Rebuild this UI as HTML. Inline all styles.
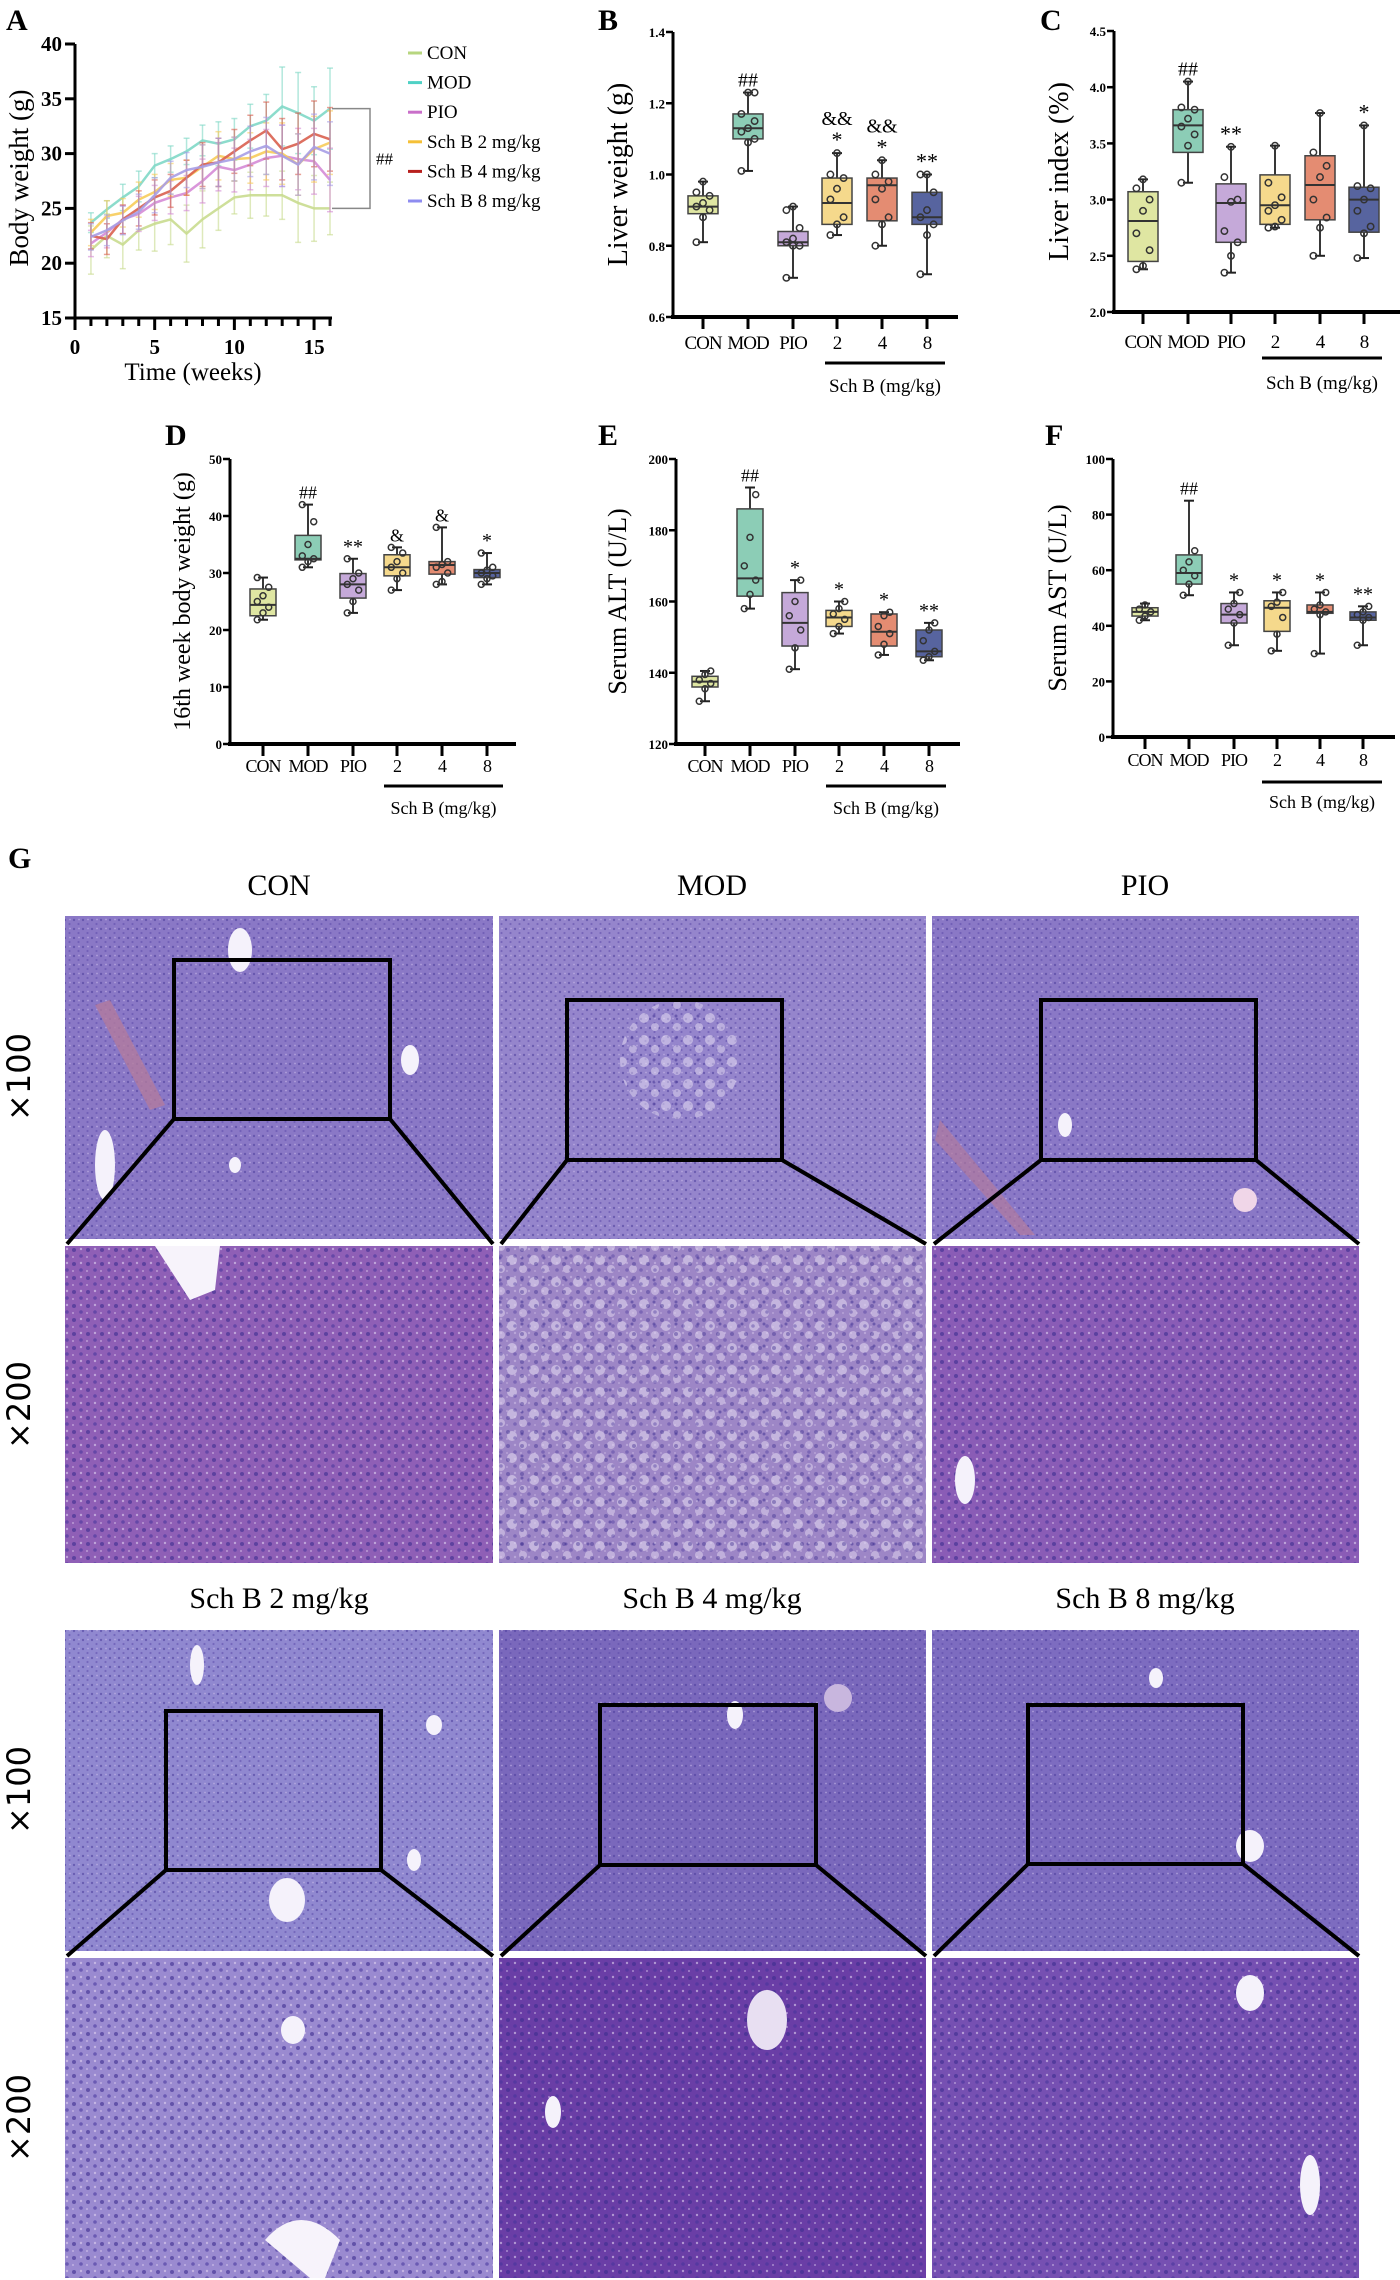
<!DOCTYPE html>
<html><head><meta charset="utf-8">
<style>
html,body{margin:0;padding:0;background:#fff;}
svg{display:block;font-family:"Liberation Serif",serif;}
</style></head>
<body>
<svg id="fig" width="1400" height="2280" viewBox="0 0 1400 2280" xmlns="http://www.w3.org/2000/svg">
<defs>
  <pattern id="cells100" width="9" height="9" patternUnits="userSpaceOnUse">
    <circle cx="2" cy="2" r="1.2" fill="#4b3c9a" opacity="0.55"/>
    <circle cx="6.5" cy="6" r="1.1" fill="#5a48a8" opacity="0.5"/>
    <circle cx="7" cy="1.5" r="0.9" fill="#c9b9ea" opacity="0.6"/>
  </pattern>
  <pattern id="cells200" width="14" height="14" patternUnits="userSpaceOnUse">
    <circle cx="4" cy="4" r="2" fill="#3c2d8f" opacity="0.6"/>
    <circle cx="11" cy="10" r="1.8" fill="#43339a" opacity="0.55"/>
    <circle cx="11" cy="3" r="1.2" fill="#e0d0f0" opacity="0.6"/>
    <circle cx="3" cy="11" r="1" fill="#e6d6f4" opacity="0.5"/>
  </pattern>
  <pattern id="fat" width="22" height="22" patternUnits="userSpaceOnUse">
    <circle cx="6" cy="6" r="5" fill="#f4eefb" opacity="0.45"/>
    <circle cx="17" cy="15" r="4" fill="#f4eefb" opacity="0.4"/>
    <circle cx="16" cy="4" r="1.5" fill="#4b3c9a" opacity="0.6"/>
  </pattern>
</defs>

<text x="6" y="30" font-size="30" font-weight="bold">A</text>
<text x="598" y="30" font-size="30" font-weight="bold">B</text>
<text x="1040" y="30" font-size="30" font-weight="bold">C</text>
<text x="165" y="445" font-size="30" font-weight="bold">D</text>
<text x="598" y="445" font-size="30" font-weight="bold">E</text>
<text x="1045" y="445" font-size="30" font-weight="bold">F</text>
<text x="8" y="868" font-size="30" font-weight="bold">G</text>

<g id="chartA"></g>
<g id="chartB"></g>
<g id="chartC"></g>
<g id="chartD"></g>
<g id="chartE"></g>
<g id="chartF"></g>

<g>
  <text x="279" y="895" font-size="30" text-anchor="middle">CON</text>
  <text x="712" y="895" font-size="30" text-anchor="middle">MOD</text>
  <text x="1145" y="895" font-size="30" text-anchor="middle">PIO</text>
  <text x="279" y="1608" font-size="30" text-anchor="middle">Sch B 2 mg/kg</text>
  <text x="712" y="1608" font-size="30" text-anchor="middle">Sch B 4 mg/kg</text>
  <text x="1145" y="1608" font-size="30" text-anchor="middle">Sch B 8 mg/kg</text>

  <text transform="translate(30,1077) rotate(-90)" font-size="32" text-anchor="middle" font-family="DejaVu Sans, sans-serif">×100</text>
  <text transform="translate(30,1405) rotate(-90)" font-size="32" text-anchor="middle" font-family="DejaVu Sans, sans-serif">×200</text>
  <text transform="translate(30,1790) rotate(-90)" font-size="32" text-anchor="middle" font-family="DejaVu Sans, sans-serif">×100</text>
  <text transform="translate(30,2118) rotate(-90)" font-size="32" text-anchor="middle" font-family="DejaVu Sans, sans-serif">×200</text>

  <g>
    <rect x="65" y="916" width="428" height="323" fill="#8a78c6"/><rect x="65" y="916" width="428" height="323" fill="url(#cells100)"/>
    <path d="M95 1005 L150 1110 L165 1105 L110 1000 Z" fill="#b27a9e" opacity="0.8"/>
    <ellipse cx="240" cy="950" rx="12" ry="22" fill="#f5f2fb"/><ellipse cx="410" cy="1060" rx="9" ry="15" fill="#f5f2fb"/>
    <ellipse cx="105" cy="1165" rx="10" ry="35" fill="#f5f2fb"/><ellipse cx="235" cy="1165" rx="6" ry="8" fill="#f5f2fb"/>
  </g>
  <g>
    <rect x="499" y="916" width="427" height="323" fill="#9585cc"/><rect x="499" y="916" width="427" height="323" fill="url(#cells100)"/>
    <ellipse cx="680" cy="1060" rx="60" ry="60" fill="url(#fat)"/>
  </g>
  <g>
    <rect x="932" y="916" width="427" height="323" fill="#8a78c6"/><rect x="932" y="916" width="427" height="323" fill="url(#cells100)"/>
    <path d="M935 1140 L1020 1235 L1035 1235 L940 1120 Z" fill="#b27a9e" opacity="0.7"/>
    <circle cx="1245" cy="1200" r="12" fill="#f0d6e8"/><ellipse cx="1065" cy="1125" rx="7" ry="12" fill="#f5f2fb"/>
  </g>
  <g>
    <rect x="65" y="1246" width="428" height="317" fill="#8f5fb6"/><rect x="65" y="1246" width="428" height="317" fill="url(#cells200)"/>
    <path d="M155 1246 L220 1246 L215 1290 L190 1300 Z" fill="#f7f3fb"/>
  </g>
  <g>
    <rect x="499" y="1246" width="427" height="317" fill="#9d86c6"/><rect x="499" y="1246" width="427" height="317" fill="url(#fat)"/><rect x="499" y="1246" width="427" height="317" fill="url(#cells200)" opacity="0.7"/>
  </g>
  <g>
    <rect x="932" y="1246" width="427" height="317" fill="#8a5cb6"/><rect x="932" y="1246" width="427" height="317" fill="url(#cells200)"/>
    <ellipse cx="965" cy="1480" rx="10" ry="24" fill="#f5f2fb"/>
  </g>
  <g>
    <rect x="65" y="1630" width="428" height="321" fill="#9088d0"/><rect x="65" y="1630" width="428" height="321" fill="url(#cells100)"/>
    <ellipse cx="287" cy="1900" rx="18" ry="22" fill="#f5f2fb"/><ellipse cx="197" cy="1665" rx="7" ry="20" fill="#f5f2fb"/>
    <ellipse cx="434" cy="1725" rx="8" ry="10" fill="#f5f2fb"/><ellipse cx="414" cy="1860" rx="7" ry="11" fill="#f5f2fb"/>
  </g>
  <g>
    <rect x="499" y="1630" width="427" height="321" fill="#7a68bc"/><rect x="499" y="1630" width="427" height="321" fill="url(#cells100)"/>
    <ellipse cx="735" cy="1715" rx="8" ry="14" fill="#f5f2fb"/><circle cx="838" cy="1698" r="14" fill="#c8b6de"/>
  </g>
  <g>
    <rect x="932" y="1630" width="427" height="321" fill="#7d6cc0"/><rect x="932" y="1630" width="427" height="321" fill="url(#cells100)"/>
    <ellipse cx="1250" cy="1846" rx="14" ry="16" fill="#f5f2fb"/><ellipse cx="1156" cy="1678" rx="7" ry="10" fill="#f5f2fb"/>
  </g>
  <g>
    <rect x="65" y="1958" width="428" height="320" fill="#9a8ad0"/><rect x="65" y="1958" width="428" height="320" fill="url(#cells200)"/>
    <path d="M265 2240 Q300 2200 340 2240 L325 2278 L310 2278 Z" fill="#f7f3fb"/><ellipse cx="293" cy="2030" rx="12" ry="14" fill="#f5f2fb"/>
  </g>
  <g>
    <rect x="499" y="1958" width="427" height="320" fill="#6a3ea6"/><rect x="499" y="1958" width="427" height="320" fill="url(#cells200)"/>
    <ellipse cx="767" cy="2020" rx="20" ry="30" fill="#e8dff2"/><ellipse cx="553" cy="2112" rx="8" ry="16" fill="#f5f2fb"/>
  </g>
  <g>
    <rect x="932" y="1958" width="427" height="320" fill="#7650b2"/><rect x="932" y="1958" width="427" height="320" fill="url(#cells200)"/>
    <ellipse cx="1250" cy="1993" rx="14" ry="18" fill="#f5f2fb"/><ellipse cx="1310" cy="2185" rx="10" ry="30" fill="#f5f2fb"/>
  </g>

  <g fill="none" stroke="#000" stroke-width="4">
    <rect x="174" y="960" width="216" height="159"/>
    <path d="M174 1119 L67 1244 M390 1119 L493 1244"/>
    <rect x="567" y="1000" width="215" height="160"/>
    <path d="M567 1160 L501 1244 M782 1160 L926 1244"/>
    <rect x="1041" y="1000" width="215" height="160"/>
    <path d="M1041 1160 L934 1244 M1256 1160 L1359 1244"/>
    <rect x="166" y="1711" width="215" height="159"/>
    <path d="M166 1870 L67 1956 M381 1870 L493 1956"/>
    <rect x="600" y="1705" width="216" height="160"/>
    <path d="M600 1865 L501 1956 M816 1865 L926 1956"/>
    <rect x="1028" y="1705" width="215" height="159"/>
    <path d="M1028 1864 L934 1956 M1243 1864 L1359 1956"/>
  </g>
</g>
</svg>

<script>
// ---------- Panel A data ----------
const weeks = [1,2,3,4,5,6,7,8,9,10,11,12,13,14,15,16];
const seriesNames = ['CON','MOD','PIO','Sch B 2 mg/kg','Sch B 4 mg/kg','Sch B 8 mg/kg'];
const conWeight  = [21.2,22.5,21.7,23.0,23.6,24.0,22.7,24.0,25.0,26.0,26.2,26.2,26.2,25.5,25.0,25.0];
const modWeight  = [23.7,24.9,26.0,27.0,28.9,29.5,30.2,31.2,30.9,31.3,32.5,33.0,34.3,33.7,33.0,34.1];
const pioWeight  = [21.8,22.8,24.0,24.5,25.5,26.0,26.4,27.5,28.8,28.5,29.0,29.6,29.8,29.5,29.3,27.6];
const sch2Weight = [22.8,24.3,24.6,25.8,26.5,27.6,27.8,28.8,29.8,29.5,29.6,30.2,30.0,29.0,30.4,31.0];
const sch4Weight = [22.5,22.2,24.0,25.0,26.0,26.6,27.8,29.0,29.2,30.2,31.2,32.1,30.4,30.9,31.8,31.3];
const sch8Weight = [22.4,23.0,23.9,24.7,26.2,27.8,28.5,28.8,29.2,29.5,30.2,30.7,29.8,29.0,30.6,30.0];
const conErr = [2.2,2.0,2.2,1.8,2.5,2.3,2.6,2.6,2.0,1.5,2.1,1.9,2.2,3.6,3.0,2.4];
const modErr = [0.9,0.8,1.2,1.4,1.1,1.2,1.2,1.4,2.0,1.9,2.0,2.4,3.6,3.7,3.1,3.7];
const otherErr = [1.2,1.4,1.3,1.6,1.6,1.5,1.6,2.0,2.2,2.0,2.3,2.6,2.8,2.8,3.0,2.9];
const yTicksA = [15,20,25,30,35,40];
const xTicksA = [0,5,10,15];

// ---------- Box panels data ----------
const groups = ['CON','MOD','PIO','2','4','8'];
const liverWeightStats = [[0.81,0.89,0.91,0.94,0.98],[1.01,1.10,1.13,1.17,1.23],[0.71,0.80,0.81,0.84,0.91],[0.83,0.86,0.92,0.99,1.06],[0.80,0.87,0.97,0.99,1.04],[0.72,0.86,0.88,0.95,1.00]];
const liverWeightPts = [[0.81,0.88,0.90,0.91,0.92,0.94,0.95,0.98],[1.01,1.09,1.10,1.12,1.13,1.15,1.17,1.23,1.23],[0.71,0.80,0.80,0.81,0.82,0.85,0.90,0.91],[0.83,0.86,0.88,0.93,0.96,0.99,1.00,1.06],[0.80,0.86,0.88,0.93,0.96,0.98,1.00,1.04],[0.72,0.83,0.86,0.88,0.90,0.95,1.00,1.00]];
const liverWeightMarks = ['','##','','&&\n*','&&\n*','**'];

const liverIndexStats = [[2.38,2.45,2.81,3.07,3.18],[3.15,3.42,3.66,3.80,4.05],[2.35,2.62,2.97,3.14,3.47],[2.75,2.78,2.95,3.22,3.48],[2.50,2.82,3.13,3.39,3.77],[2.48,2.71,3.00,3.11,3.66]];
const liverIndexPts = [[2.38,2.41,2.55,2.70,2.90,3.00,3.10,3.18],[3.15,3.48,3.58,3.65,3.72,3.80,3.82,4.05],[2.35,2.50,2.62,2.72,2.98,3.00,3.20,3.47],[2.75,2.76,2.82,2.90,2.95,3.02,3.15,3.48],[2.50,2.75,2.84,3.00,3.20,3.30,3.42,3.77],[2.48,2.70,2.76,2.90,3.00,3.10,3.12,3.66]];
const liverIndexMarks = ['','##','**','','','*'];

const bw16Stats = [[21.8,22.5,24.4,27.2,29.2],[31.0,32.3,32.5,36.6,42.0],[23.0,25.6,28.0,29.9,32.5],[27.0,29.5,31.0,33.2,34.5],[28.0,29.8,31.4,32.0,38.0],[28.0,29.2,30.0,30.6,33.5]];
const bw16Pts = [[21.8,23,24,25,26,27.5,29.2],[31,32,32.5,33,35,39,42],[23,25,27,28,29,30,32.5],[27,29,30,31,32,33.5,34.5],[28,28.5,30,31,31.5,32,38],[28,29,29.5,30,30.5,31,33.5]];
const bw16Marks = ['','##','**','&','&','*'];

const altStats = [[132,136,137.5,139,140.5],[158,161.5,166.5,186,192],[141,147.5,154,162.5,166],[151,153,155.5,157.5,160],[145,147.5,151.5,156.5,157],[143.5,144.5,146,152,154]];
const altPts = [[132,135.5,137,138,139.5,140.5],[158,162,166,170,178,190],[141,147,152,156,160,166],[151,153,155,156.5,158,160],[145,148,151,153,156,157],[143.5,144.5,146,149,152,154]];
const altMarks = ['','##','*','*','*','**'];

const astStats = [[42,43.5,45,46.5,48],[51,55,59,65.5,85],[33,41,44,48,52],[31,38,46.5,49,52],[30,44.5,45,47.5,52],[33,42,43,45,47]];
const astPts = [[42,43.5,45,46,47.5],[51,55,58,60,63,67],[33,41,44,46,48,52],[31,37,43,47,48.5,52],[30,44,45,46,47.5,52],[33,42,43,44,45,47]];
const astMarks = ['','##','*','*','*','**'];

const boxFills = ['#dfe6a2','#8ccdb6','#c5a9d9','#f5d98c','#e48c72','#57649f'];

const NS = 'http://www.w3.org/2000/svg';
function mk(parent, tag, attrs, text){
  const el = document.createElementNS(NS, tag);
  for (const k in attrs) el.setAttribute(k, attrs[k]);
  if (text !== undefined) el.textContent = text;
  parent.appendChild(el);
  return el;
}
function lin(d0,d1,r0,r1){ return v => r0 + (v-d0)/(d1-d0)*(r1-r0); }

// ---------- Panel A ----------
(function(){
  const g = document.getElementById('chartA');
  const Y0 = 318, Y1 = 44;
  const x = lin(0,16,75,330), y = lin(15,40,Y0,Y1);
  const cols = ['#c9dc8f','#7fd8c6','#d58bd6','#f7cc5a','#d9604f','#a79de6'];
  const legendCols = ['#b7d67f','#4fd1c5','#c96fc9','#f5c037','#b8201e','#8e8cf0'];
  const data = [conWeight, modWeight, pioWeight, sch2Weight, sch4Weight, sch8Weight];
  const errs = [conErr, modErr, otherErr, otherErr, otherErr, otherErr];
  mk(g,'line',{x1:75,y1:Y1,x2:75,y2:Y0,stroke:'#000','stroke-width':3});
  mk(g,'line',{x1:73,y1:Y0,x2:332,y2:Y0,stroke:'#000','stroke-width':3});
  yTicksA.forEach(v=>{
    mk(g,'line',{x1:65,y1:y(v),x2:75,y2:y(v),stroke:'#000','stroke-width':3});
    const t = mk(g,'text',{x:62,y:y(v)+7,'font-size':21,'font-weight':'bold','text-anchor':'end'},v);
    
    
  });
  weeks.concat([0]).forEach(w=>{
    mk(g,'line',{x1:x(w),y1:Y0,x2:x(w),y2:xTicksA.includes(w)?Y0+12:Y0+8,stroke:'#000','stroke-width':3});
  });
  xTicksA.forEach(v=>{
    const t = mk(g,'text',{x:x(v),y:354,'font-size':21,'font-weight':'bold','text-anchor':'middle'},v);
    
    
  });
  const yt = mk(g,'text',{transform:'translate(28,178) rotate(-90)','font-size':27,'text-anchor':'middle'},'Body weight (g)');
  
  
  const xt = mk(g,'text',{x:193,y:380,'font-size':25,'text-anchor':'middle'},'Time (weeks)');
  
  
  data.forEach((s,si)=>{
    const sg = mk(g,'g',{});
    
    
    s.forEach((v,i)=>{
      const e = errs[si][i];
      mk(sg,'line',{x1:x(weeks[i]),y1:y(v+e),x2:x(weeks[i]),y2:y(v-e),stroke:cols[si],'stroke-width':1.5,opacity:0.6});
      mk(sg,'line',{x1:x(weeks[i])-3,y1:y(v+e),x2:x(weeks[i])+3,y2:y(v+e),stroke:cols[si],'stroke-width':1.5,opacity:0.6});
      mk(sg,'line',{x1:x(weeks[i])-3,y1:y(v-e),x2:x(weeks[i])+3,y2:y(v-e),stroke:cols[si],'stroke-width':1.5,opacity:0.6});
    });
    mk(sg,'polyline',{points:s.map((v,i)=>x(weeks[i])+','+y(v)).join(' '),fill:'none',stroke:cols[si],'stroke-width':2.5,opacity:0.9});
  });
  const last = weeks.length-1;
  mk(g,'path',{d:`M332 ${y(modWeight[last])} H370 V${y(conWeight[last])} H332`,fill:'none',stroke:'#888','stroke-width':1.5});
  const sig = mk(g,'text',{x:376,y:y((modWeight[last]+conWeight[last])/2)+6,'font-size':17},'##');
  
  
  seriesNames.forEach((n,i)=>{
    const ly = 53 + i*29.6;
    const le = mk(g,'g',{});
    
    
    mk(le,'line',{x1:408,y1:ly,x2:422,y2:ly,stroke:legendCols[i],'stroke-width':3});
    mk(le,'text',{x:427,y:ly+6,'font-size':19},n);
  });
})();

// ---------- box plot panels ----------
function boxPanel(id, cfg, stats, pts, marks){
  const g = document.getElementById(id);
  const y = lin(cfg.min, cfg.max, cfg.y0, cfg.y1);
  const cx = cfg.cats;
  const bw = cfg.bw;
  mk(g,'line',{x1:cfg.ax,y1:cfg.y1,x2:cfg.ax,y2:cfg.y0,stroke:'#000','stroke-width':3});
  mk(g,'line',{x1:cfg.ax-2,y1:cfg.y0,x2:cfg.xend,y2:cfg.y0,stroke:'#000','stroke-width':4});
  cfg.ticks.forEach(v=>{
    mk(g,'line',{x1:cfg.ax-7,y1:y(v),x2:cfg.ax,y2:y(v),stroke:'#000','stroke-width':2.5});
    const t = mk(g,'text',{x:cfg.ax-8,y:y(v)+5,'font-size':cfg.tfs,'font-weight':'bold','text-anchor':'end'},cfg.fmt(v));
    
    
  });
  const yt = mk(g,'text',{transform:`translate(${cfg.titleX},${(cfg.y0+cfg.y1)/2}) rotate(-90)`,'font-size':cfg.titleFs,'text-anchor':'middle'},cfg.title);
  
  
  groups.forEach((gname,i)=>{
    mk(g,'line',{x1:cx[i],y1:cfg.y0,x2:cx[i],y2:cfg.y0+12,stroke:'#000','stroke-width':3});
    const t = mk(g,'text',{x:cx[i],y:cfg.labY,'font-size':cfg.lfs,'text-anchor':'middle','letter-spacing':'-1'},gname);
    
    
    const s = stats[i];
    const bg = mk(g,'g',{});
    
    
    mk(bg,'line',{x1:cx[i],y1:y(s[0]),x2:cx[i],y2:y(s[4]),stroke:'#222','stroke-width':1.8});
    mk(bg,'line',{x1:cx[i]-5,y1:y(s[0]),x2:cx[i]+5,y2:y(s[0]),stroke:'#222','stroke-width':2});
    mk(bg,'line',{x1:cx[i]-5,y1:y(s[4]),x2:cx[i]+5,y2:y(s[4]),stroke:'#222','stroke-width':2});
    mk(bg,'rect',{x:cx[i]-bw/2,y:y(s[3]),width:bw,height:y(s[1])-y(s[3]),fill:boxFills[i],stroke:'#444','stroke-width':1.5});
    mk(bg,'line',{x1:cx[i]-bw/2,y1:y(s[2]),x2:cx[i]+bw/2,y2:y(s[2]),stroke:'#333','stroke-width':2});
    pts[i].forEach((v,j)=>{
      const off = ((j%3)-1)*cfg.bw*0.22;
      mk(bg,'circle',{cx:cx[i]+off,cy:y(v),r:cfg.pr,fill:'none',stroke:'#333','stroke-width':1.5});
    });
    if (marks[i]){
      const lines = marks[i].split('\n');
      lines.reverse().forEach((m,k)=>{
        const t2 = mk(g,'text',{x:cx[i],y:y(s[4])-6-k*cfg.markGap,'font-size':m==='##'||m==='&&'||m==='&'?cfg.mfs:cfg.mfs+2,'text-anchor':'middle'},m);
        
        
      });
    }
  });
  mk(g,'line',{x1:cfg.ul0,y1:cfg.ulY,x2:cfg.ul1,y2:cfg.ulY,stroke:'#000','stroke-width':3});
  const st = mk(g,'text',{x:(cfg.ul0+cfg.ul1)/2,y:cfg.subY,'font-size':cfg.lfs,'text-anchor':'middle'},'Sch B (mg/kg)');
  
  
}
const f1 = v=>v.toFixed(1), f0 = v=>String(v);
boxPanel('chartB',{min:0.6,max:1.4,y0:317,y1:32,ax:673,xend:958,cats:[703,748,793,837,882,927],bw:30,ticks:[0.6,0.8,1.0,1.2,1.4],fmt:f1,tfs:13,title:'Liver weight (g)',titleX:627,titleFs:28,labY:349,lfs:19,ul0:825,ul1:945,ulY:363,subY:392,pr:3.2,mfs:20,markGap:22},liverWeightStats,liverWeightPts,liverWeightMarks);
boxPanel('chartC',{min:2.0,max:4.5,y0:312,y1:31,ax:1114,xend:1400,cats:[1143,1188,1231,1275,1320,1364],bw:30,ticks:[2.0,2.5,3.0,3.5,4.0,4.5],fmt:f1,tfs:13,title:'Liver index (%)',titleX:1068,titleFs:28,labY:348,lfs:19,ul0:1262,ul1:1382,ulY:358,subY:389,pr:3.2,mfs:20,markGap:22},liverIndexStats,liverIndexPts,liverIndexMarks);
boxPanel('chartD',{min:0,max:50,y0:744,y1:459,ax:230,xend:516,cats:[263,308,353,397,442,487],bw:26,ticks:[0,10,20,30,40,50],fmt:f0,tfs:13,title:'16th week body weight (g)',titleX:190,titleFs:24,labY:772,lfs:18,ul0:384,ul1:503,ulY:786,subY:814,pr:3,mfs:18,markGap:22},bw16Stats,bw16Pts,bw16Marks);
boxPanel('chartE',{min:120,max:200,y0:744,y1:459,ax:676,xend:960,cats:[705,750,795,839,884,929],bw:26,ticks:[120,140,160,180,200],fmt:f0,tfs:13,title:'Serum ALT (U/L)',titleX:626,titleFs:26,labY:772,lfs:18,ul0:826,ul1:946,ulY:786,subY:814,pr:3,mfs:18,markGap:22},altStats,altPts,altMarks);
boxPanel('chartF',{min:0,max:100,y0:737,y1:459,ax:1113,xend:1395,cats:[1145,1189,1234,1277,1320,1363],bw:26,ticks:[0,20,40,60,80,100],fmt:f0,tfs:13,title:'Serum AST (U/L)',titleX:1066,titleFs:26,labY:766,lfs:18,ul0:1262,ul1:1382,ulY:782,subY:808,pr:3,mfs:18,markGap:22},astStats,astPts,astMarks);
</script>
</body></html>
